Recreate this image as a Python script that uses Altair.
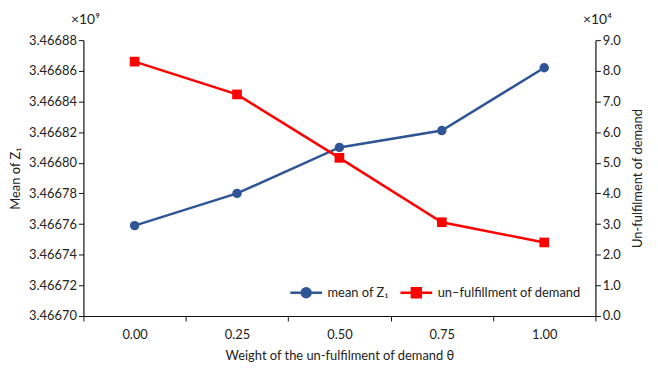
import altair as alt
import pandas as pd

# Data
theta = ["0.00", "0.25", "0.50", "0.75", "1.00"]
mean_z1 = [3.466759, 3.466780, 3.466810, 3.466821, 3.466862]      # x10^9
unfulfilled = [8.30, 7.23, 5.16, 3.06, 2.40]                      # x10^4
series_names = ["mean of Z\u2081", "un\u2013fulfillment of demand"]
left_ticks = [3.46670, 3.46672, 3.46674, 3.46676, 3.46678, 3.46680, 3.46682, 3.46684, 3.46686, 3.46688]
right_ticks = [0, 1, 2, 3, 4, 5, 6, 7, 8, 9]
exp_labels = ["\u00d710\u2079", "\u00d710\u2074"]

BLUE = "#2F5597"
RED = "#FF0000"
FONT = "Lato"

df = pd.DataFrame({"theta": theta, "mean": mean_z1, "unf": unfulfilled})
legend_df = pd.DataFrame({"series": series_names, "theta": [theta[0], theta[0]]})

circle_path = "M-1,0L1,0M0.28,0A0.28,0.28,0,1,1,-0.28,0A0.28,0.28,0,1,1,0.28,0Z"
square_path = "M-1,0L1,0M-0.28,-0.28L0.28,-0.28L0.28,0.28L-0.28,0.28Z"

x_enc = alt.X(
    "theta:O",
    bandPosition=0.5,
    scale=alt.Scale(type="band", paddingInner=0, paddingOuter=0),
    axis=alt.Axis(
        title="Weight of the un-fulfilment of demand \u03b8",
        labelAngle=0, tickBand="extent", labelPadding=8, titlePadding=8,
    ),
)

base = alt.Chart(df)

blue = base.mark_line(
    color=BLUE, strokeWidth=2.5,
    point=alt.OverlayMarkDef(filled=True, size=90, color=BLUE, opacity=1),
).encode(
    x=x_enc,
    y=alt.Y(
        "mean:Q",
        scale=alt.Scale(domain=[3.46670, 3.46688], nice=False, zero=False),
        axis=alt.Axis(values=left_ticks, format=".5f", title="Mean of Z\u2081",
                      orient="left", titlePadding=6),
    ),
)

red = base.mark_line(
    color=RED, strokeWidth=2.5,
    point=alt.OverlayMarkDef(filled=True, size=95, shape="square", color=RED, opacity=1),
).encode(
    x=x_enc,
    y=alt.Y(
        "unf:Q",
        scale=alt.Scale(domain=[0, 9], nice=False),
        axis=alt.Axis(values=right_ticks, format=".1f", title="Un-fulfilment of demand",
                      orient="right", titleAngle=270, titlePadding=24),
    ),
)

leg_scale_c = alt.Scale(domain=series_names, range=[BLUE, RED])
leg = alt.Legend(
    title=None, orient="bottom-right", direction="horizontal",
    symbolSize=1024, symbolStrokeWidth=2.5, symbolOpacity=1,
    labelFontSize=13, labelFont=FONT, labelColor="#222", labelOffset=4,
    columnPadding=6, offset=14, padding=0,
)
legend_layer = alt.Chart(legend_df).mark_point(filled=True, opacity=0).encode(
    x=alt.X("theta:O", bandPosition=0.5),
    fill=alt.Fill("series:N", scale=leg_scale_c, legend=leg),
    stroke=alt.Stroke("series:N", scale=leg_scale_c, legend=leg),
    shape=alt.Shape("series:N", scale=alt.Scale(domain=series_names, range=[circle_path, square_path]), legend=leg),
)

exp_df = pd.DataFrame({"t": exp_labels})
exp_left = alt.Chart(exp_df).transform_filter(alt.datum.t == exp_labels[0]).mark_text(
    fontSize=14, font=FONT, color="#222", align="center", baseline="middle"
).encode(text="t:N", x=alt.value(2), y=alt.value(-20))
exp_right = alt.Chart(exp_df).transform_filter(alt.datum.t == exp_labels[1]).mark_text(
    fontSize=14, font=FONT, color="#222", align="center", baseline="middle"
).encode(text="t:N", x=alt.value(518), y=alt.value(-20))

chart = alt.layer(blue, red, legend_layer, exp_left, exp_right).resolve_scale(
    y="independent"
).properties(
    width=516, height=278, padding={"left": 1, "top": 4, "right": 5, "bottom": 5}
).configure_view(stroke=None).configure_axis(
    labelFont=FONT, titleFont=FONT, labelFontSize=13, titleFontSize=13,
    labelColor="#222", titleColor="#222", titleFontWeight="normal",
    domainColor="#111", tickColor="#111", tickSize=5, grid=False, domainWidth=1.2,
)

chart.save("out.html", embed_options={"renderer": "svg", "actions": False})
